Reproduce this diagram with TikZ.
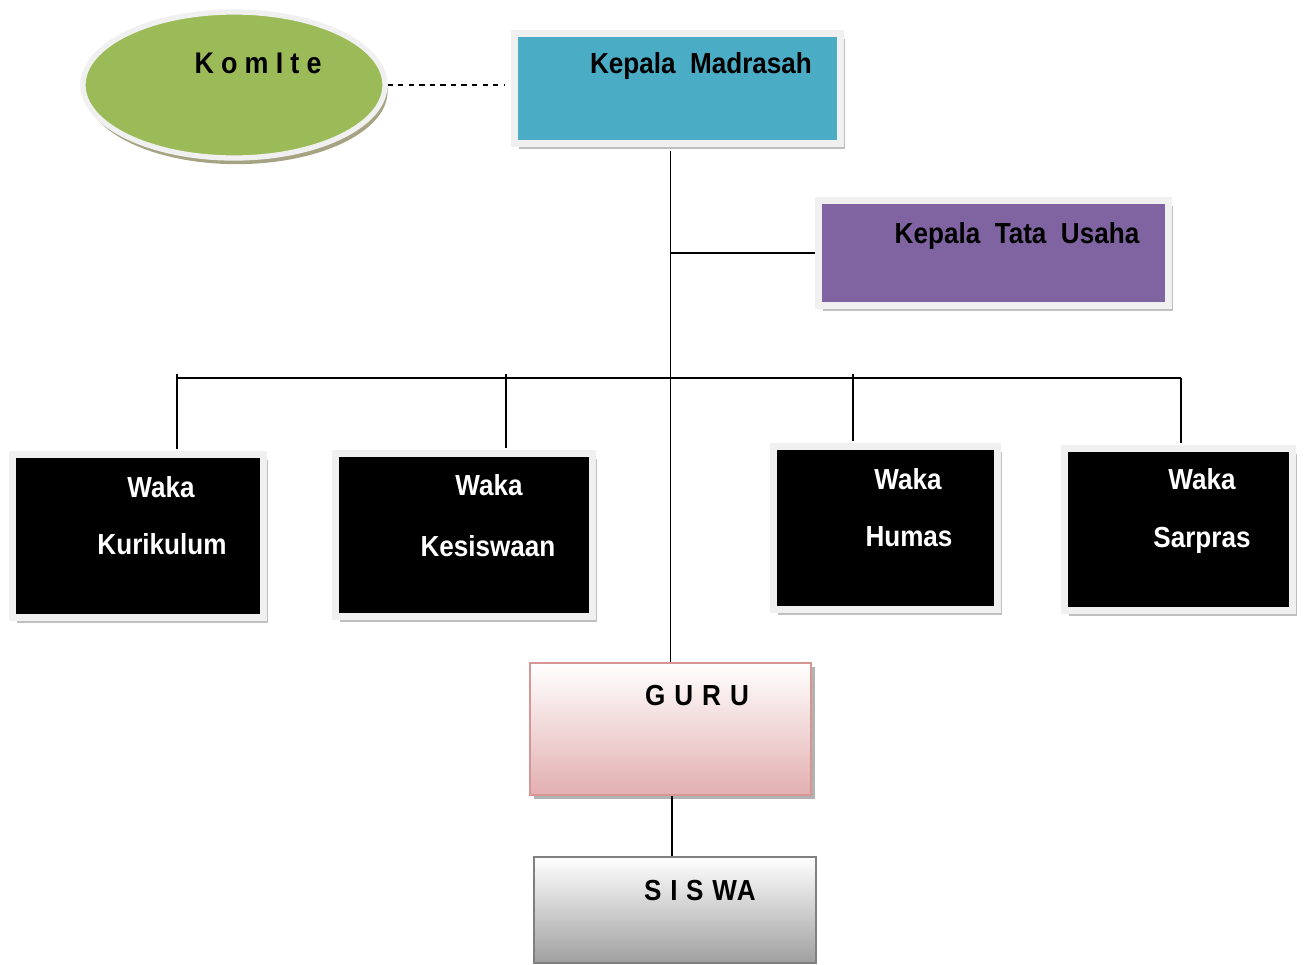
\documentclass[tikz,border=0pt]{standalone}
\usepackage{fontspec}
\setmainfont{Liberation Sans}[FakeStretch=0.9]
\usetikzlibrary{shadows,shapes.geometric}

\definecolor{kgreen}{RGB}{155,187,89}
\definecolor{kblue}{RGB}{75,172,198}
\definecolor{kpurple}{RGB}{128,100,162}
\definecolor{gurubot}{RGB}{227,175,176}
\definecolor{gurubd}{RGB}{214,150,150}
\definecolor{rim}{RGB}{240,240,240}

\begin{document}
\begin{tikzpicture}[x=0.02cm,y=-0.02cm,
    box/.style={rectangle,draw=rim,line width=4pt,inner sep=0pt,
        drop shadow={shadow xshift=2.5pt,shadow yshift=-3pt,fill=gray!50,opacity=1}},
    txt/.style={anchor=base,font=\fontsize{16.5}{19}\selectfont\bfseries},
    wtxt/.style={txt,text=white},
    link/.style={line width=1.1pt}]

    \useasboundingbox (0,0) rectangle (1305,964);

    \node (kom) [ellipse,draw=rim,line width=3pt,fill=kgreen,minimum width=302*0.02cm,minimum height=146*0.02cm,
        drop shadow={shadow xshift=1.5pt,shadow yshift=-3.5pt,fill=gray!70!olive,opacity=0.8}] at (234,85) {};
    \node (km) [box,fill=kblue,minimum width=326*0.02cm,minimum height=110*0.02cm] at (677.5,88.5) {};
    \node (ktu) [box,fill=kpurple,minimum width=350*0.02cm,minimum height=105*0.02cm] at (993.5,253) {};

    \node (wk1) [box,fill=black,minimum width=251*0.02cm,minimum height=163*0.02cm] at (138,536) {};
    \node (wk2) [box,fill=black,minimum width=257*0.02cm,minimum height=163*0.02cm] at (464,535) {};
    \node (wk3) [box,fill=black,minimum width=224*0.02cm,minimum height=163*0.02cm] at (885.5,528) {};
    \node (wk4) [box,fill=black,minimum width=228*0.02cm,minimum height=162*0.02cm] at (1178.5,529.5) {};

    \node (guru) [rectangle,draw=gurubd,line width=1.2pt,top color=white,bottom color=gurubot,
        minimum width=281*0.02cm,minimum height=132*0.02cm,
        drop shadow={shadow xshift=2pt,shadow yshift=-2.5pt,fill=gray!60,opacity=1}] at (670.5,729) {};
    \node (siswa) [rectangle,draw=gray,line width=1.2pt,top color=white,bottom color=gray!75,
        minimum width=282*0.02cm,minimum height=106*0.02cm] at (675,910) {};

    % texts
    \node (t0) [txt,font=\fontsize{17}{20}\selectfont\bfseries\addfontfeature{LetterSpace=24}] at (258,73) {KomIte};
    \node (t1) [txt] at (701,73) {Kepala\ \ Madrasah};
    \node (t2) [txt] at (1017,243) {Kepala\ \ Tata\ \ Usaha};
    \node (t3a) [wtxt] at (161,497) {Waka};
    \node (t3b) [wtxt] at (162,554) {Kurikulum};
    \node (t4a) [wtxt] at (489,495) {Waka};
    \node (t4b) [wtxt] at (488,556) {Kesiswaan};
    \node (t5a) [wtxt] at (908,489) {Waka};
    \node (t5b) [wtxt] at (909,546) {Humas};
    \node (t6a) [wtxt] at (1202,489) {Waka};
    \node (t6b) [wtxt] at (1202,547) {Sarpras};
    \node (t7) [txt,font=\fontsize{16.5}{19}\selectfont\bfseries\addfontfeature{LetterSpace=31}] at (697,705) {GURU};
    \node (t8) [txt,font=\fontsize{16.5}{19}\selectfont\bfseries\addfontfeature{LetterSpace=5}] at (700,900) {S\ I\ S\ WA};

    % lines
    \coordinate (b1) at (177,378);
    \coordinate (b2) at (506,378);
    \coordinate (b3) at (853,378);
    \coordinate (b4) at (1181,378);

    \draw[link,dashed,line width=0.9pt,shorten >=4pt] (kom.east) -- (kom.east -| km.west);
    \draw[link,shorten <=2pt] (guru.north |- km.south) -- (guru.north);
    \draw[link] (guru.north |- ktu.west) -- (ktu.west);
    \draw[link] (b1) -- (b4);
    \draw[link,shorten >=1pt] ([yshift=2pt]b1) -- (b1 |- wk1.north);
    \draw[link,shorten >=1pt] ([yshift=2pt]b2) -- (b2 |- wk2.north);
    \draw[link,shorten >=1pt] ([yshift=2pt]b3) -- (b3 |- wk3.north);
    \draw[link,shorten >=1pt] (b4) -- (b4 |- wk4.north);
    \draw[link] (guru.south -| 672,0) -- (672,0 |- siswa.north);
\end{tikzpicture}
\end{document}
